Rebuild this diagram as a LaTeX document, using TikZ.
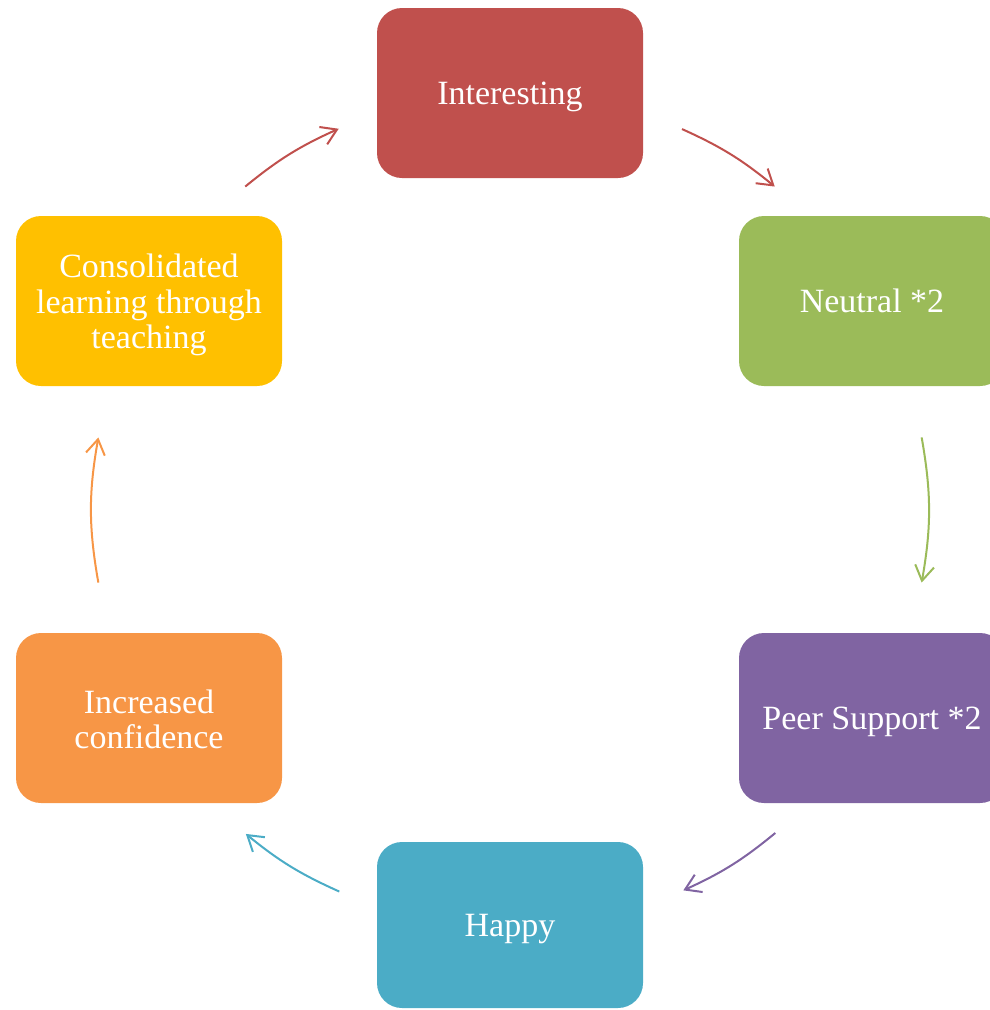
\documentclass[tikz,border=0pt]{standalone}
\usepackage{fontspec}
\setmainfont{Liberation Serif}
\usetikzlibrary{arrows.meta,calc}
\definecolor{cRed}{HTML}{C0504D}
\definecolor{cGreen}{HTML}{9BBB59}
\definecolor{cPurple}{HTML}{8064A2}
\definecolor{cTeal}{HTML}{4BACC6}
\definecolor{cOrange}{HTML}{F79646}
\definecolor{cGold}{HTML}{FFC000}
\newcommand\boxtext[2]{\raisebox{#1}[0pt][0pt]{\begin{tabular}[b]{@{}c@{}}#2\end{tabular}}}
\tikzset{
  box/.style={rounded corners=25pt, minimum width=266pt, minimum height=170pt,
    text=white, inner sep=0pt,
    font=\fontsize{34}{35.5}\selectfont},
  cyc/.style={line width=2pt, -{Straight Barb[length=15pt,width=19pt,line width=2pt]}}
}
\begin{document}
\begin{tikzpicture}[x=1pt,y=-1pt]
\useasboundingbox (0,0) rectangle (990,1010);
\node[box, fill=cRed] (int) at (510,93) {\boxtext{-11pt}{Interesting}};
\node[box, fill=cGreen] (neu) at (872,301) {\boxtext{-11pt}{Neutral *2}};
\node[box, fill=cPurple] (peer) at (872,718) {\boxtext{-11pt}{Peer Support *2}};
\node[box, fill=cTeal, minimum height=166pt] (hap) at (510,925) {\boxtext{-11.5pt}{Happy}};
\node[box, fill=cOrange] (inc) at (149,718) {\boxtext{-30.5pt}{Increased\\confidence}};
\node[box, fill=cGold] (con) at (149,301) {\boxtext{-47.5pt}{Consolidated\\learning through\\teaching}};
\coordinate (ctr) at (510,510);
\coordinate (s1) at ($(ctr)+(65.7:418pt)$);
\coordinate (e1) at ($(ctr)+(50.7:418pt)$);
\coordinate (s2) at ($(ctr)+(10:418pt)$);
\coordinate (e2) at ($(ctr)+(-10:418pt)$);
\coordinate (s3) at ($(ctr)+(-50.6:418pt)$);
\coordinate (e3) at ($(ctr)+(-65.5:418pt)$);
\coordinate (s4) at ($(ctr)+(-114.1:418pt)$);
\coordinate (e4) at ($(ctr)+(-129.2:418pt)$);
\coordinate (s5) at ($(ctr)+(190:418pt)$);
\coordinate (e5) at ($(ctr)+(170:418pt)$);
\coordinate (s6) at ($(ctr)+(129.3:418pt)$);
\coordinate (e6) at ($(ctr)+(114.2:418pt)$);
\draw[cyc, cRed] (s1) to[bend left=7.5] (e1);
\draw[cyc, cGreen] (s2) to[bend left=10] (e2);
\draw[cyc, cPurple] (s3) to[bend left=7.5] (e3);
\draw[cyc, cTeal] (s4) to[bend left=7.5] (e4);
\draw[cyc, cOrange] (s5) to[bend left=10] (e5);
\draw[cyc, cRed] (s6) to[bend left=7.5] (e6);
\end{tikzpicture}
\end{document}
